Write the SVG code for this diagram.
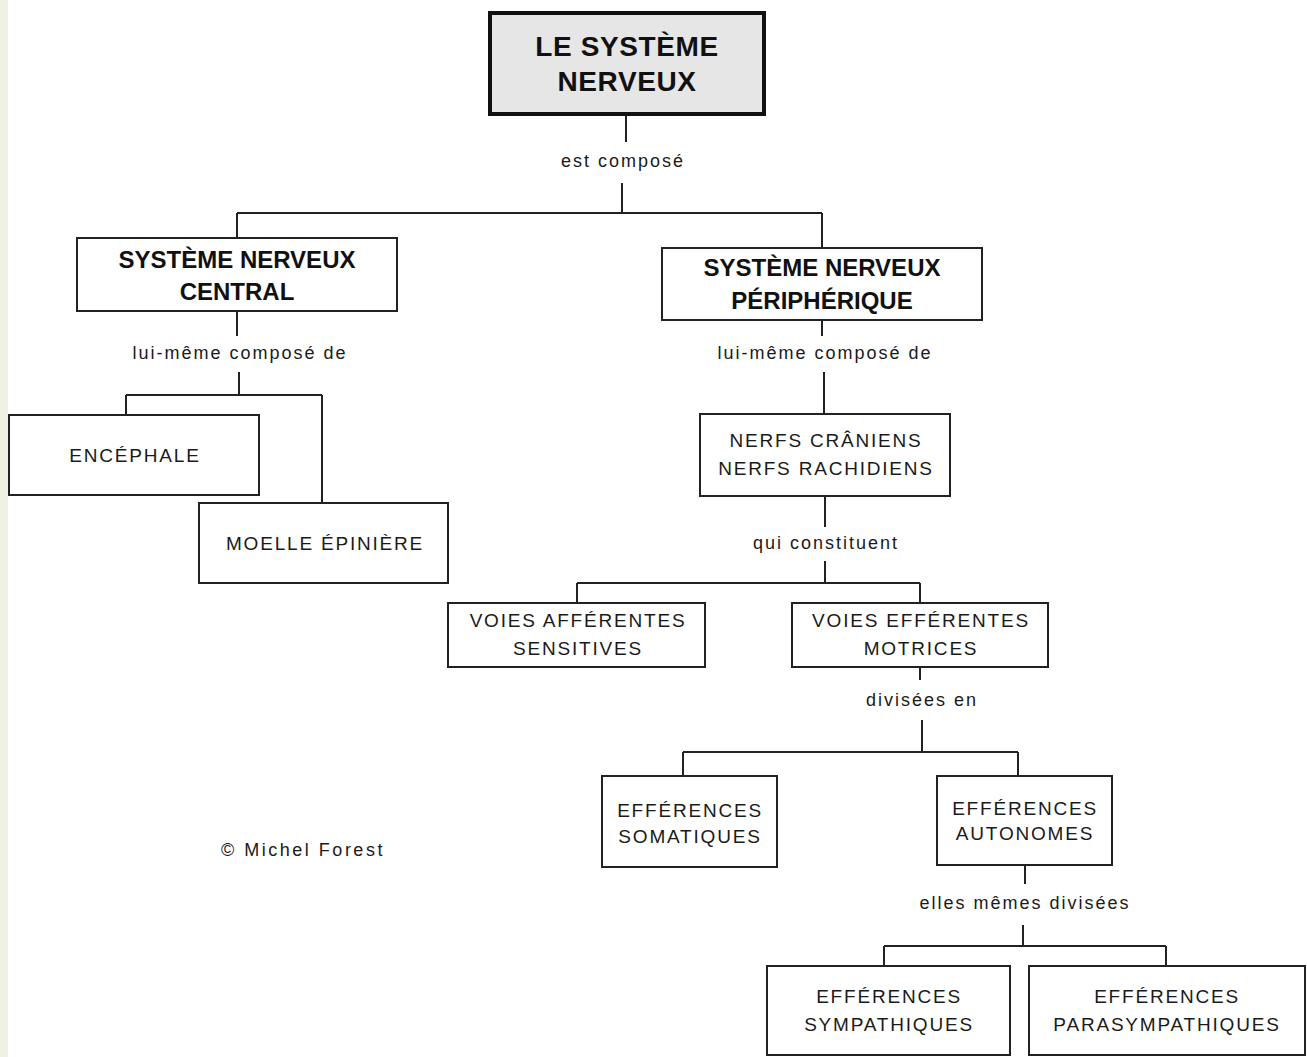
<svg xmlns="http://www.w3.org/2000/svg" width="1307" height="1057" viewBox="0 0 1307 1057">
<style>
.box{fill:#fff;stroke:#222;stroke-width:2}
.top{fill:#e6e6e6;stroke:#111;stroke-width:4}
.ln{fill:none;stroke:#222;stroke-width:2}
.t{font-family:"Liberation Sans",Arial,sans-serif;font-size:19px;letter-spacing:1.8px;fill:#1a1a1a;text-anchor:middle}
.b{font-family:"Liberation Sans",Arial,sans-serif;font-size:24px;font-weight:bold;fill:#111;text-anchor:middle}
.bt{font-family:"Liberation Sans",Arial,sans-serif;font-size:28px;font-weight:bold;letter-spacing:0.6px;fill:#111;text-anchor:middle}
.l{font-family:"Liberation Sans",Arial,sans-serif;font-size:18px;letter-spacing:2px;fill:#1a1a1a;text-anchor:middle}
</style>
<rect x="0" y="0" width="1307" height="1057" fill="#fff"/>
<rect x="0" y="0" width="8" height="1057" fill="#eef2e2"/>
<g id="connectors">
<path class="ln" d="M626 114V142M622 183V213M237 213H822M237 213V238M822 213V248"/>
<path class="ln" d="M237 311V336M239 372V395M126 395H322M126 395V415M322 395V503"/>
<path class="ln" d="M822 320V336M824 372V414"/>
<path class="ln" d="M825 496V527M825 561V583M577 583H920M577 583V603M920 583V603"/>
<path class="ln" d="M920 667V680M922 720V752M683 752H1018M683 752V776M1018 752V776"/>
<path class="ln" d="M1025 865V884M1023 925V946M884 946H1166M884 946V966M1166 946V966"/>
</g>
<g id="labels">
<text class="l" x="623" y="167">est composé</text>
<text class="l" x="240" y="359">lui-même composé de</text>
<text class="l" x="825" y="359">lui-même composé de</text>
<text class="l" x="826" y="549">qui constituent</text>
<text class="l" x="922" y="706">divisées en</text>
<text class="l" x="1025" y="909">elles mêmes divisées</text>
<text class="l" x="303" y="856" style="letter-spacing:2.5px">© Michel Forest</text>
</g>
<g id="n-root"><rect class="top" x="490" y="13" width="274" height="101"/><text class="bt" x="627" y="56">LE SYSTÈME</text><text class="bt" x="627" y="91">NERVEUX</text></g>
<g id="n-snc"><rect class="box" x="77" y="238" width="320" height="73"/><text class="b" x="237" y="268">SYSTÈME NERVEUX</text><text class="b" x="237" y="300">CENTRAL</text></g>
<g id="n-snp"><rect class="box" x="662" y="248" width="320" height="72"/><text class="b" x="822" y="276">SYSTÈME NERVEUX</text><text class="b" x="822" y="309">PÉRIPHÉRIQUE</text></g>
<g id="n-enc"><rect class="box" x="9" y="415" width="250" height="80"/><text class="t" x="135" y="462">ENCÉPHALE</text></g>
<g id="n-moelle"><rect class="box" x="199" y="503" width="249" height="80"/><text class="t" x="325" y="550">MOELLE ÉPINIÈRE</text></g>
<g id="n-nerfs"><rect class="box" x="700" y="414" width="250" height="82"/><text class="t" x="826" y="447">NERFS CRÂNIENS</text><text class="t" x="826" y="475">NERFS RACHIDIENS</text></g>
<g id="n-aff"><rect class="box" x="448" y="603" width="257" height="64"/><text class="t" x="578" y="627">VOIES AFFÉRENTES</text><text class="t" x="578" y="655">SENSITIVES</text></g>
<g id="n-eff"><rect class="box" x="792" y="603" width="256" height="64"/><text class="t" x="921" y="627">VOIES EFFÉRENTES</text><text class="t" x="921" y="655">MOTRICES</text></g>
<g id="n-som"><rect class="box" x="602" y="776" width="175" height="91"/><text class="t" x="690" y="817">EFFÉRENCES</text><text class="t" x="690" y="843">SOMATIQUES</text></g>
<g id="n-auto"><rect class="box" x="937" y="776" width="175" height="89"/><text class="t" x="1025" y="815">EFFÉRENCES</text><text class="t" x="1025" y="840">AUTONOMES</text></g>
<g id="n-sym"><rect class="box" x="767" y="966" width="243" height="89"/><text class="t" x="889" y="1003">EFFÉRENCES</text><text class="t" x="889" y="1031">SYMPATHIQUES</text></g>
<g id="n-para"><rect class="box" x="1029" y="966" width="276" height="89"/><text class="t" x="1167" y="1003">EFFÉRENCES</text><text class="t" x="1167" y="1031">PARASYMPATHIQUES</text></g>
</svg>
